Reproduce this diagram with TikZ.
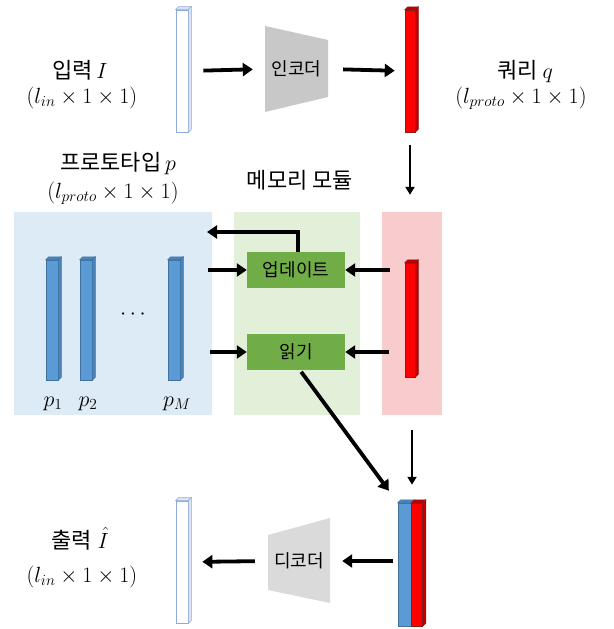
\RequirePackage{fix-cm}
\documentclass[tikz,border=0pt]{standalone}
\usepackage{fontspec}
\newfontfamily\kr{Noto Sans CJK KR}
\usetikzlibrary{arrows.meta,calc}
\definecolor{pblue}{HTML}{DDEBF7}
\definecolor{pgreen}{HTML}{E2F0D9}
\definecolor{ppink}{HTML}{F8CBCC}
\definecolor{gbox}{HTML}{70AD47}
\definecolor{bfront}{HTML}{5B9BD5}
\definecolor{bside}{HTML}{4A84BD}
\definecolor{bedge}{HTML}{41719C}
\definecolor{rfront}{HTML}{FF0000}
\definecolor{rside}{HTML}{C00000}
\definecolor{redge}{HTML}{8B1A1A}
\definecolor{wedge}{HTML}{8EA9DB}
\definecolor{wside}{HTML}{DAE3F3}
\definecolor{encgray}{HTML}{C8C8C8}
\definecolor{decgray}{HTML}{DADADA}
\newcommand\barfaces[3]{%
  \filldraw[#3,line width=0.5pt,fill=#2] (#1.north west) -- ++(3,-3) -- ($(#1.north east)+(3,-3)$) -- (#1.north east) -- cycle;
  \filldraw[#3,line width=0.5pt,fill=#2] (#1.north east) -- ++(3,-3) -- ($(#1.south east)+(3,-3)$) -- (#1.south east) -- cycle;
}
\begin{document}
\begin{tikzpicture}[x=1pt,y=-1pt,
  arr/.style={line width=3.8pt,-{Triangle[length=10pt,width=13pt]}},
  thinarr/.style={line width=2.5pt,-{Triangle[length=8pt,width=9pt]}},
  lbl/.style={font=\kr\fontsize{22}{26}\selectfont,inner sep=0,text height=16pt,text depth=3pt},
  dim/.style={font=\fontsize{22}{26}\selectfont,inner sep=0,text height=15pt,text depth=5pt},
  panel/.style={rectangle,inner sep=0,minimum height=203pt},
  gboxstyle/.style={rectangle,fill=gbox,inner sep=0,minimum width=98pt,minimum height=36pt,font=\kr\fontsize{18}{21}\selectfont},
  wbar/.style={rectangle,inner sep=0,fill=white,draw=wedge,line width=0.7pt,minimum width=12pt,minimum height=122pt},
  bbar/.style={rectangle,inner sep=0,fill=bfront,draw=bedge,line width=0.5pt,minimum width=12pt,minimum height=120pt},
  rbar/.style={rectangle,inner sep=0,fill=rfront,draw=redge,line width=0.5pt,minimum width=10pt},
  trap/.style={rectangle,inner sep=0,minimum width=63pt,font=\kr\fontsize{18}{21}\selectfont}
]
\useasboundingbox (0,0) rectangle (613,629);

% panels
\node[panel,fill=pblue,minimum width=198pt] (blue) at (113,313.5) {};
\node[panel,fill=pgreen,minimum width=126pt] (green) at (297,313.5) {};
\node[panel,fill=ppink,minimum width=60pt] (pink) at (412,313.5) {};

% top row
\node[wbar] (inbar) at (182,71) {};
\barfaces{inbar}{wside}{draw=wedge}
\fill[encgray] (265,26) -- (328,40) -- (328,97) -- (265,112) -- cycle;
\node[trap,minimum height=86pt] (enc) at (296.5,69) {인코더};
\node[rbar,minimum height=122pt] (qbar) at (410,71) {};
\barfaces{qbar}{rside}{draw=redge}

\node[lbl] (inlbl) at (80,72) {입력\,\(I\)};
\node[dim] (indim) at (82,98) {\((l_{in}\times 1\times 1)\)};
\node[lbl] (qlbl) at (525,72) {쿼리 \(q\)};
\node[dim] (qdim) at (521,98) {\((l_{proto}\times 1\times 1)\)};
\node[lbl] (plbl) at (118,164) {프로토타입\,\(p\)};
\node[dim] (pdim) at (113,193) {\((l_{proto}\times 1\times 1)\)};
\node[lbl] (mlbl) at (300,182) {메모리 모듈};

\draw[arr,shorten <=15pt,shorten >=12pt] (inbar.east) -- (enc.west);
\draw[arr,shorten <=15pt,shorten >=10pt] (enc.east) -- (qbar.west);
\draw[thinarr,shorten <=13pt,shorten >=17pt] (qbar.south) -- (qbar.south |- pink.north);

% prototypes
\node[bbar] (p1) at (52,320) {};
\barfaces{p1}{bside}{draw=bedge}
\node[bbar] (p2) at (86,320) {};
\barfaces{p2}{bside}{draw=bedge}
\node[bbar] (pM) at (174,320) {};
\barfaces{pM}{bside}{draw=bedge}
\node[dim] (dots) at (133,314) {\(\cdots\)};
\node[dim] (p1l) at (53,401) {\(p_1\)};
\node[dim] (p2l) at (88,401) {\(p_2\)};
\node[dim] (pMl) at (177,401) {\(p_M\)};

% memory module
\node[gboxstyle] (upd) at (296,270) {업데이트};
\node[gboxstyle] (read) at (296,352) {읽기};
\node[rbar,minimum height=114pt] (mbar) at (410,320) {};
\barfaces{mbar}{rside}{draw=redge}

\coordinate (loopend) at (207,232);
\draw[arr] ([xshift=2pt]upd.north) |- (loopend);
\draw[arr] ($(blue.east |- upd.west)+(-4,0)$) -- (upd.west);
\draw[arr] ($(pink.west |- upd.east)+(8,0)$) -- (upd.east);
\draw[arr] ($(blue.east |- read.west)+(-2,0)$) -- (read.west);
\draw[arr] ($(pink.west |- read.east)+(7,0)$) -- (read.east);

% bottom row
\node[rectangle,inner sep=0,fill=bfront,draw=bedge,line width=0.5pt,minimum width=13pt,minimum height=123pt] (cb1) at (404.5,564.5) {};
\node[rbar,minimum width=11pt,minimum height=123pt,anchor=west] (cb2) at (cb1.east) {};
\filldraw[draw=bedge,line width=0.5pt,fill=bside] (cb1.north west) -- ++(3,-3) -- ($(cb1.north east)+(3,-3)$) -- (cb1.north east) -- cycle;
\barfaces{cb2}{rside}{draw=redge}

\draw[thinarr,shorten <=15pt,shorten >=18pt] (pink.south) -- (pink.south |- cb2.north);
\draw[arr,shorten <=2pt,shorten >=15pt] ([xshift=4pt]read.south) -- (cb1.north west);

\fill[decgray] (268,535) -- (330,518) -- (330,603) -- (268,590) -- cycle;
\node[trap,minimum width=62pt,minimum height=85pt] (dec) at (299,561) {디코더};
\node[wbar] (outbar) at (182,562) {};
\barfaces{outbar}{wside}{draw=wedge}

\draw[arr,shorten <=5pt,shorten >=12pt] (cb1.west |- dec.east) -- (dec.east);
\draw[arr,shorten <=13pt,shorten >=14pt] (dec.west) -- (outbar.east);

\node[lbl] (outlbl) at (80,542) {출력\;\(\hat{I}\)};
\node[dim] (outdim) at (82,577) {\((l_{in}\times 1\times 1)\)};
\end{tikzpicture}
\end{document}
